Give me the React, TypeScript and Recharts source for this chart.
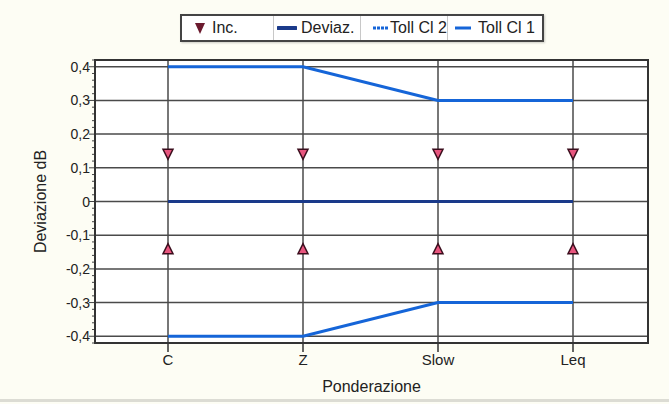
import React from 'react';
import {
  LineChart,
  Line,
  XAxis,
  YAxis,
  CartesianGrid
} from 'recharts';

const categories = ['C', 'Z', 'Slow', 'Leq'];
const tollUpper = [0.4, 0.4, 0.3, 0.3];
const tollLower = [-0.4, -0.4, -0.3, -0.3];
const deviaz = [0, 0, 0, 0];
const incUpper = [0.14, 0.14, 0.14, 0.14];
const incLower = [-0.14, -0.14, -0.14, -0.14];
const majorTicks = [-0.4, -0.3, -0.2, -0.1, 0, 0.1, 0.2, 0.3, 0.4];

const data = categories.map((c, i) => ({
  name: c,
  tollUp: tollUpper[i],
  tollLow: tollLower[i],
  dev: deviaz[i],
  incUp: incUpper[i],
  incLow: incLower[i]
}));

// minor ticks every 0.02 (axis decoration only)
const allTicks: number[] = [];
for (let k = -21; k <= 21; k++) allTicks.push(Math.round(k * 2) / 100);

const isMajor = (v: number) => Math.abs(v * 10 - Math.round(v * 10)) < 1e-6;
const fmt = (v: number) => (v === 0 ? '0' : v.toFixed(1).replace('.', ','));

const FONT = '"Liberation Sans", Arial, sans-serif';

function YTick(props: any) {
  const { x, y, payload } = props;
  const v = payload.value;
  const major = isMajor(v);
  const ax = x + 8;
  return (
    <g>
      <line x1={ax - (major ? 6 : 3)} x2={ax} y1={y} y2={y} stroke="#444" strokeWidth={1} />
      {major && (
        <text x={ax - 5} y={y + 5} textAnchor="end" fontSize={14} fill="#222" fontFamily={FONT}>
          {fmt(v)}
        </text>
      )}
    </g>
  );
}

function XTick(props: any) {
  const { x, y, payload } = props;
  return (
    <text x={x} y={y + 11} textAnchor="middle" fontSize={15} fill="#222" fontFamily={FONT}>
      {payload.value}
    </text>
  );
}

function TriDown(props: any) {
  const { cx, cy, index } = props;
  return (
    <path
      key={'d' + index}
      d={`M${cx - 5},${cy - 5} L${cx + 5},${cy - 5} L${cx},${cy + 5} Z`}
      fill="#e8557e"
      stroke="#3a0d1c"
      strokeWidth={1.5}
    />
  );
}

function TriUp(props: any) {
  const { cx, cy, index } = props;
  return (
    <path
      key={'u' + index}
      d={`M${cx - 5},${cy + 5} L${cx + 5},${cy + 5} L${cx},${cy - 5} Z`}
      fill="#e8557e"
      stroke="#3a0d1c"
      strokeWidth={1.5}
    />
  );
}

const cell: React.CSSProperties = {
  display: 'flex',
  alignItems: 'center',
  height: '100%',
  borderRight: '1px solid #c8c8c8',
  boxSizing: 'border-box',
  paddingLeft: 6,
  whiteSpace: 'nowrap'
};

function Legend() {
  return (
    <div
      style={{
        position: 'absolute',
        left: 180,
        top: 14,
        width: 364,
        height: 28,
        border: '2px solid #444',
        background: '#fff',
        boxSizing: 'border-box',
        display: 'flex',
        fontFamily: FONT,
        fontSize: 16,
        color: '#222',
        boxShadow: '1px 1px 2px rgba(0,0,0,0.2)'
      }}
    >
      <div style={{ ...cell, width: 92 }}>
        <svg width={16} height={14} style={{ marginLeft: 4, marginRight: 4 }}>
          <path d="M3,2 L13,2 L8,13 Z" fill="#6b1a2e" />
        </svg>
        Inc.
      </div>
      <div style={{ ...cell, width: 87, paddingLeft: 3 }}>
        <svg width={20} height={10} style={{ marginRight: 4 }}>
          <line x1={1} x2={19} y1={5} y2={5} stroke="#1a3a8a" strokeWidth={4} strokeLinecap="round" />
        </svg>
        Deviaz.
      </div>
      <div style={{ ...cell, width: 87, paddingLeft: 11 }}>
        <svg width={17} height={10} style={{ marginRight: 2 }}>
          <line x1={1} x2={16} y1={5} y2={5} stroke="#1565d8" strokeWidth={3} strokeDasharray="3 1" />
        </svg>
        Toll Cl 2
      </div>
      <div style={{ ...cell, width: 94, borderRight: 'none' }}>
        <svg width={18} height={10} style={{ marginRight: 6 }}>
          <line x1={1} x2={17} y1={5} y2={5} stroke="#1565d8" strokeWidth={3} />
        </svg>
        Toll Cl 1
      </div>
    </div>
  );
}

export default function App() {
  return (
    <div
      style={{
        position: 'absolute',
        left: 0,
        top: 0,
        width: 669,
        height: 404,
        background: '#fdfdf4',
        fontFamily: FONT
      }}
    >
      <LineChart
        width={669}
        height={398}
        data={data}
        margin={{ top: 60, right: 21, bottom: 6, left: 40 }}
      >
        <CartesianGrid
          fill="#ffffff"
          stroke="#4a4a4a"
          strokeWidth={1.5}
          horizontalValues={majorTicks}
        />
        <XAxis
          dataKey="name"
          padding={{ left: 73, right: 75 }}
          tickSize={9}
          tickLine={{ stroke: '#333', strokeWidth: 1.5 }}
          axisLine={{ stroke: '#333', strokeWidth: 2 }}
          tick={<XTick />}
          height={49}
          label={{ value: 'Ponderazione', position: 'insideBottom', offset: 0, fontSize: 16, fill: '#222', fontFamily: FONT }}
        />
        <YAxis
          type="number"
          domain={[-0.42, 0.42]}
          ticks={allTicks}
          interval={0}
          tick={<YTick />}
          tickLine={false}
          axisLine={{ stroke: '#333', strokeWidth: 2 }}
          width={55}
          label={{ value: 'Deviazione dB', angle: -90, position: 'insideLeft', offset: 0, dx: 0, fontSize: 16, fill: '#222', fontFamily: FONT, style: { textAnchor: 'middle' } }}
        />
        <Line dataKey="tollUp" stroke="#1565d8" strokeWidth={3} dot={false} isAnimationActive={false} />
        <Line dataKey="tollLow" stroke="#1565d8" strokeWidth={3} dot={false} isAnimationActive={false} />
        <Line dataKey="dev" stroke="#1a3a8a" strokeWidth={3} dot={false} isAnimationActive={false} />
        <Line dataKey="incUp" stroke="none" dot={<TriDown />} isAnimationActive={false} />
        <Line dataKey="incLow" stroke="none" dot={<TriUp />} isAnimationActive={false} />
      </LineChart>
      {/* plot frame */}
      <div
        style={{
          position: 'absolute',
          left: 94,
          top: 59,
          width: 555,
          height: 285,
          border: '2px solid #333',
          boxSizing: 'border-box',
          pointerEvents: 'none'
        }}
      />
      <div style={{ position: 'absolute', left: 0, top: 399, width: 669, height: 3, background: '#dcdcd4' }} />
      <Legend />
    </div>
  );
}
